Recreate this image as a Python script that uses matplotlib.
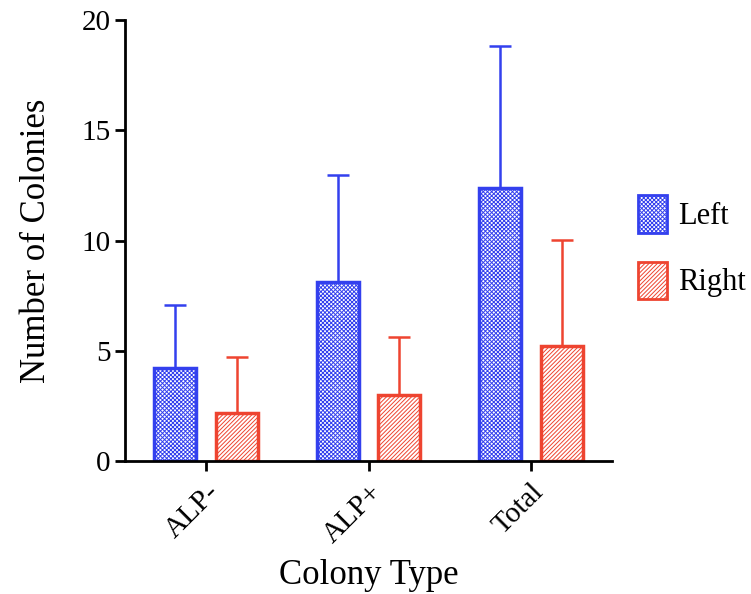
import numpy as np
import matplotlib
matplotlib.use("Agg")
from matplotlib import pyplot as plt

plt.rcParams['font.family'] = ['Liberation Serif', 'DejaVu Serif']
plt.rcParams['hatch.linewidth'] = 0.7

categories = ["ALP-", "ALP+", "Total"]
left_mean = [4.22, 8.12, 12.38]
left_sd = [2.85, 4.85, 6.44]
right_mean = [2.18, 2.99, 5.22]
right_sd = [2.54, 2.63, 4.80]

blue = "#3340ee"
red = "#ee4430"

fig = plt.figure(figsize=(7.51, 5.94), dpi=100)
ax = fig.add_axes([0.1664, 0.224, 0.6486, 0.742])

x = np.arange(len(categories))
w = 0.26
off = 0.19

plt.rcParams['hatch.color'] = blue
b1 = ax.bar(x - off, left_mean, w, facecolor="white", edgecolor=blue,
            linewidth=2.5, hatch="xxxxxxxx", label="Left", zorder=2)
ax.errorbar(x - off, left_mean, yerr=[np.zeros(3), left_sd], fmt="none",
            ecolor=blue, elinewidth=1.8, capsize=8, capthick=1.8, zorder=1)

b2 = ax.bar(x + off, right_mean, w, facecolor="white", edgecolor=red,
            linewidth=2.5, hatch="////////", label="Right", zorder=2)
for p in b2.patches:
    p._hatch_color = matplotlib.colors.to_rgba(red)
ax.errorbar(x + off, right_mean, yerr=[np.zeros(3), right_sd], fmt="none",
            ecolor=red, elinewidth=1.8, capsize=8, capthick=1.8, zorder=1)

ax.set_xlim(-0.5, 2.5)
ax.set_ylim(0, 20)
ax.set_yticks([0, 5, 10, 15, 20])
ax.set_xticks(x)
ax.set_xticklabels(categories, rotation=45, ha="right", rotation_mode="anchor")

for s in ["top", "right"]:
    ax.spines[s].set_visible(False)
for s in ["left", "bottom"]:
    ax.spines[s].set_linewidth(2)
ax.tick_params(axis="both", direction="out", length=7, width=2, labelsize=21)
ax.tick_params(axis="x", pad=6)

ax.set_ylabel("Number of Colonies", fontsize=25, labelpad=20)
ax.set_xlabel("Colony Type", fontsize=25, labelpad=8)

leg = ax.legend(loc="center left", bbox_to_anchor=(1.0, 0.485), frameon=False,
                fontsize=22, handlelength=0.95, handleheight=1.5,
                labelspacing=0.95, handletextpad=0.35, borderpad=0.2,
                borderaxespad=0.65)
for h in leg.get_patches():
    h.set_linewidth(2)

fig.savefig("out.png", dpi=100)
